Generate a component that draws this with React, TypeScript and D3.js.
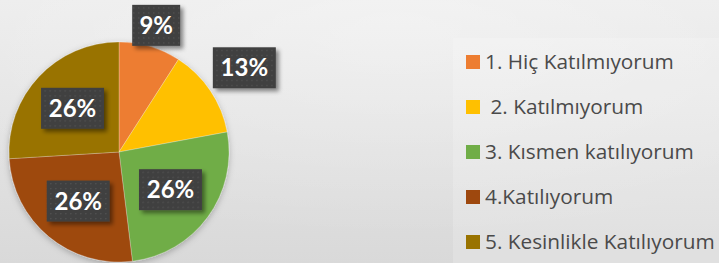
import React from 'react';
import * as d3 from 'd3';

// answer counts per category (shown as percentages)
const categories = [
  '1. Hiç Katılmıyorum',
  ' 2. Katılmıyorum',
  '3. Kısmen katılıyorum',
  '4.Katılıyorum',
  '5. Kesinlikle Katılıyorum',
];
const counts = [7, 10, 20, 20, 20];
const colors = ['#ed7d31', '#ffc000', '#70ad47', '#9e480e', '#997300'];

const W = 719;
const H = 263;

export default function App() {
  const cx = 119;
  const cy = 152;
  const r = 110;

  const total = d3.sum(counts);
  const pie = d3.pie<number>().sort(null).value(d => d);
  const arcs = pie(counts);
  const arc = d3.arc<d3.PieArcDatum<number>>().innerRadius(0).outerRadius(r);

  // label distance from centre: small slices get their label outside
  const labelRadius = (a: d3.PieArcDatum<number>) => {
    const span = a.endAngle - a.startAngle;
    if (span < 0.6) return r + 22;
    if (span < 1) return r + 41;
    return r * 0.58;
  };

  const legendY = d3.scalePoint<number>()
    .domain(d3.range(categories.length))
    .range([62, 242]);

  return (
    <svg width={W} height={H} style={{position: 'fixed', left: 0, top: 0}}>
      <defs>
        <linearGradient id="bg" x1="0" y1="0" x2="0" y2="1">
          <stop offset="0" stopColor="#ececec" />
          <stop offset="1" stopColor="#d9d9d9" />
        </linearGradient>
        <radialGradient id="bgr" cx="0.55" cy="0.1" r="0.8">
          <stop offset="0" stopColor="#ffffff" stopOpacity="0.35" />
          <stop offset="1" stopColor="#ffffff" stopOpacity="0" />
        </radialGradient>
        <pattern id="dots" width="5" height="5" patternUnits="userSpaceOnUse">
          <rect width="5" height="5" fill="#404040" />
          <rect x="2" y="2" width="1.2" height="1.2" fill="#565656" />
        </pattern>
        <filter id="shadow" x="-30%" y="-30%" width="160%" height="160%">
          <feDropShadow dx="3" dy="3" stdDeviation="2" floodColor="#000" floodOpacity="0.45" />
        </filter>
        <filter id="pieShadow" x="-20%" y="-20%" width="140%" height="140%">
          <feDropShadow dx="0" dy="2" stdDeviation="3" floodColor="#000" floodOpacity="0.25" />
        </filter>
      </defs>

      <rect width={W} height={H} fill="url(#bg)" />
      <rect width={W} height={H} fill="url(#bgr)" />
      <rect x={453} y={38} width={W - 453} height={H - 38} fill="#ffffff" opacity={0.18} />

      <g transform={`translate(${cx},${cy})`} filter="url(#pieShadow)">
        {arcs.map((a, i) => (
          <path key={i} d={arc(a) || ''} fill={colors[i]} stroke="#ffffff" strokeOpacity={0.35} strokeWidth={0.7} />
        ))}
      </g>

      <g transform={`translate(${cx},${cy})`}>
        {arcs.map((a, i) => {
          const lr = labelRadius(a);
          const [lx, ly] = d3.arc<d3.PieArcDatum<number>>().innerRadius(lr).outerRadius(lr).centroid(a);
          const text = `${Math.round((counts[i] / total) * 100)}%`;
          const bw = text.length * 15 + 18;
          const bh = 41;
          return (
            <g key={i} transform={`translate(${lx},${ly})`}>
              <rect x={-bw / 2} y={-bh / 2} width={bw} height={bh} fill="url(#dots)" filter="url(#shadow)" />
              <text
                textAnchor="middle"
                dy="0.36em"
                fill="#ffffff"
                fontFamily="Lato, 'Open Sans', sans-serif"
                fontWeight="bold"
                fontSize={24}
              >
                {text}
              </text>
            </g>
          );
        })}
      </g>

      <g fontFamily="'Open Sans', Lato, sans-serif" fontSize={20.8} fill="#4a4a4a">
        {categories.map((c, i) => (
          <g key={i} transform={`translate(466,${legendY(i)})`}>
            <rect x={0} y={-7} width={14} height={14} fill={colors[i]} />
            <text x={19} dy="0.35em" style={{whiteSpace: 'pre'}}>{c}</text>
          </g>
        ))}
      </g>
    </svg>
  );
}
